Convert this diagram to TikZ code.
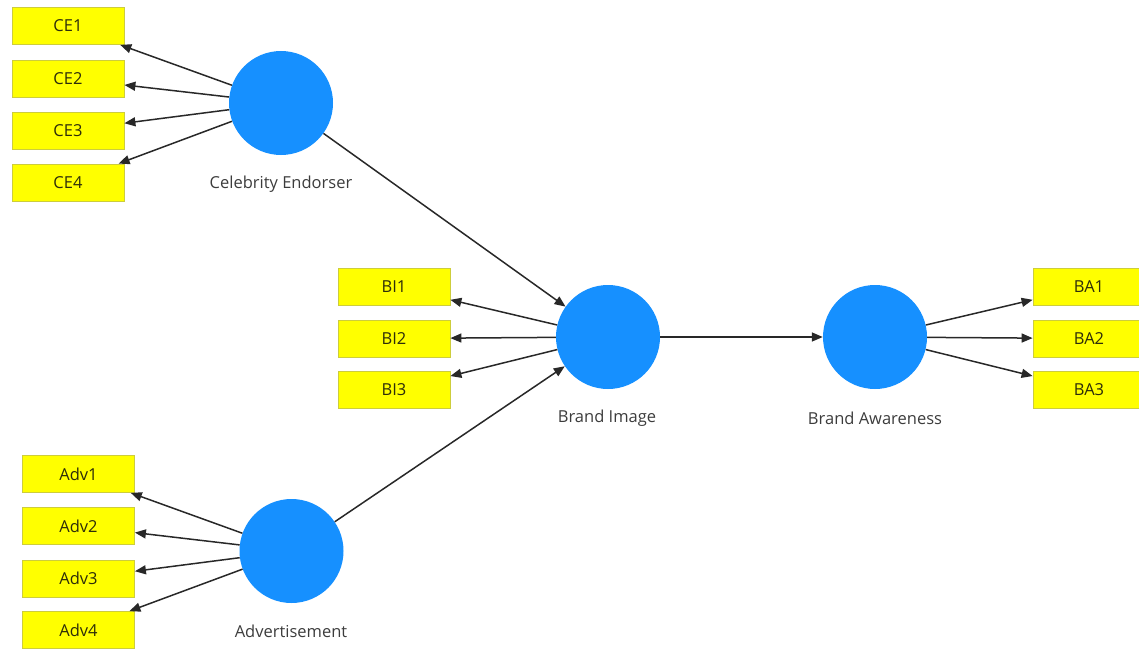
\documentclass[tikz,border=0pt]{standalone}
\usepackage{fontspec}
\setmainfont{Open Sans}
\usetikzlibrary{arrows.meta}
\definecolor{latentblue}{RGB}{22,144,255}
\definecolor{itemyellow}{RGB}{255,255,0}
\definecolor{itemedge}{RGB}{205,205,60}
\definecolor{itemtext}{RGB}{45,45,10}
\definecolor{labeltext}{RGB}{60,60,60}
\definecolor{pathline}{RGB}{40,40,40}
\tikzset{
  latent/.style={circle, fill=latentblue, draw=none, minimum size=104pt, inner sep=0pt},
  item/.style={rectangle, fill=itemyellow, draw=itemedge, line width=0.8pt,
    minimum width=112pt, minimum height=37pt, inner sep=0pt,
    font=\fontsize{16.5}{18}\selectfont, text=itemtext},
  latentlabel/.style={font=\fontsize{16.5}{18}\selectfont, text=labeltext},
  path/.style={draw=pathline, line width=1.5pt, -{Triangle[length=11pt,width=9pt]}}
}
\begin{document}
\begin{tikzpicture}[x=1pt,y=-1pt]
\useasboundingbox (0,0) rectangle (1139,650);

% latent variables
\node[latent] (ce) at (281,103) {};
\node[latent] (bi) at (608,337) {};
\node[latent] (ba) at (875,337) {};
\node[latent] (adv) at (291.5,551) {};

\node[latentlabel] (celab) at (281,184) {Celebrity Endorser};
\node[latentlabel] (bilab) at (607,418) {Brand Image};
\node[latentlabel] (balab) at (875,418) {Brand Awareness};
\node[latentlabel] (advlab) at (291,631) {Advertisement};

% indicators
\node[item] (ce1) at (68,26) {CE1};
\node[item] (ce2) at (68,78.5) {CE2};
\node[item] (ce3) at (68,130.5) {CE3};
\node[item] (ce4) at (68,182.5) {CE4};

\node[item] (bi1) at (394,286.5) {BI1};
\node[item] (bi2) at (394,338.5) {BI2};
\node[item] (bi3) at (394,390) {BI3};

\node[item] (ba1) at (1089,286.5) {BA1};
\node[item] (ba2) at (1089,338.5) {BA2};
\node[item] (ba3) at (1089,390) {BA3};

\node[item] (adv1) at (78.5,474) {Adv1};
\node[item] (adv2) at (78.5,526) {Adv2};
\node[item] (adv3) at (78.5,578.5) {Adv3};
\node[item] (adv4) at (78.5,630) {Adv4};

% outer loadings
\foreach \i in {1,2,3,4} \draw[path] (ce) -- (ce\i);
\foreach \i in {1,2,3} \draw[path] (bi) -- (bi\i);
\foreach \i in {1,2,3} \draw[path] (ba) -- (ba\i);
\foreach \i in {1,2,3,4} \draw[path] (adv) -- (adv\i);

% structural paths
\draw[path] (ce) -- (bi);
\draw[path] (adv) -- (bi);
\draw[path] (bi) -- (ba);
\end{tikzpicture}
\end{document}
